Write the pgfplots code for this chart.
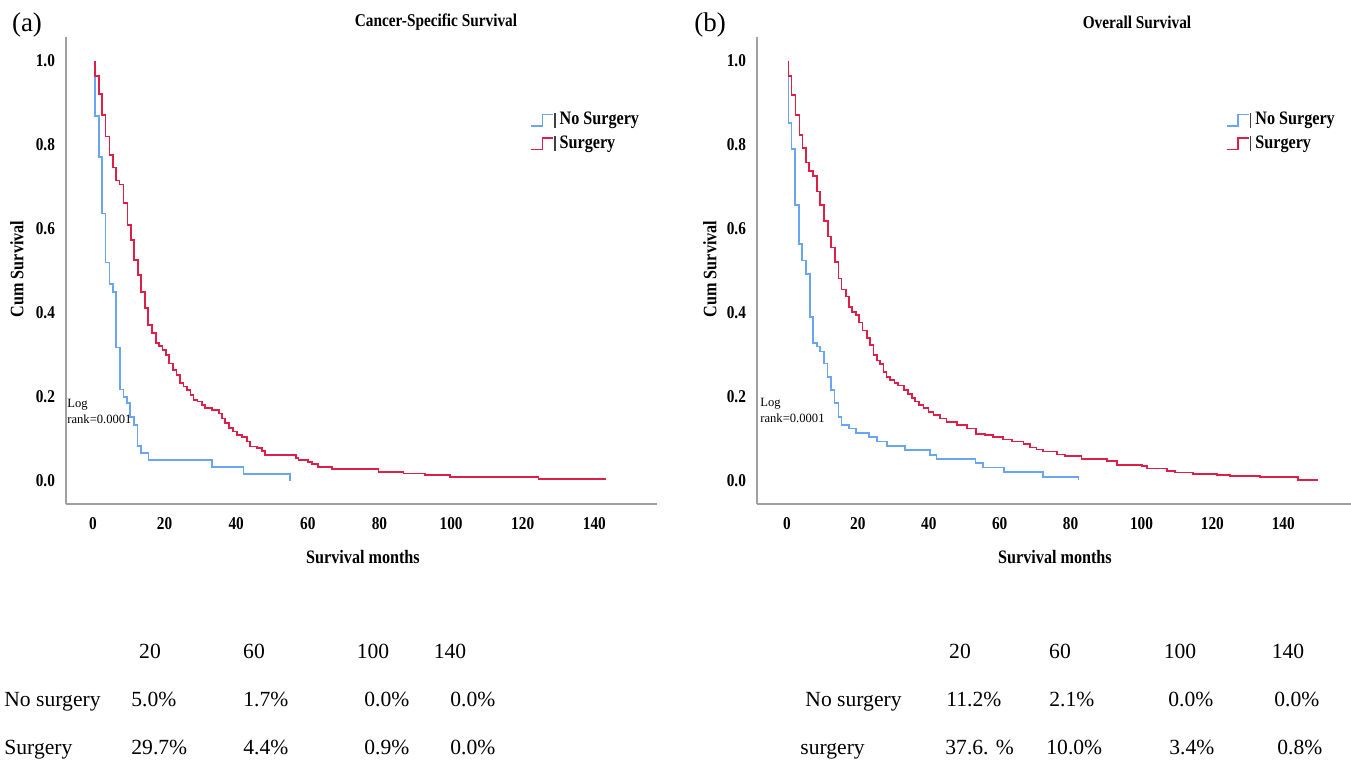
\documentclass[border=0pt]{standalone}
\usepackage{fontspec}
\setmainfont{Liberation Serif}
\newfontfamily\cond[FakeStretch=0.85]{Liberation Serif}
\usepackage{pgfplots}
\pgfplotsset{compat=1.18}
\definecolor{kmblue}{RGB}{105,165,240}
\definecolor{kmred}{RGB}{222,32,72}
\definecolor{axgray}{RGB}{160,160,160}
\pgfplotsset{kmstyle/.style={
  scale only axis, height=233.5pt,
  axis x line=bottom, axis y line=left,
  axis line style={-, axgray, line width=1pt},
  ymin=-0.0548, ymax=1.057,
  xtick={0,20,...,140}, ytick={0,0.2,0.4,0.6,0.8,1.0},
  major tick length=0pt,
  ticklabel style={font=\cond\bfseries\fontsize{9}{10}\selectfont},
  /pgf/number format/assume math mode=true,
  yticklabel style={/pgf/number format/.cd, fixed, fixed zerofill, precision=1},
  xticklabel shift=3pt, yticklabel shift=2pt,
  clip=false,
  legend image code/.code={\draw[#1, line width=0.8pt] (0cm,-0.1cm) -- (0.2cm,-0.1cm) -- (0.2cm,0.1cm) -- (0.38cm,0.1cm); \draw[black!75, line width=0.6pt] (0.42cm,-0.13cm) -- (0.42cm,0.13cm);},
  legend style={draw=none, fill=none, font=\cond\bfseries\fontsize{9.5}{11}\selectfont, row sep=0pt, inner sep=0pt, cells={anchor=west}, anchor=north west},
}}
\begin{document}
\begin{tikzpicture}
\useasboundingbox (0,0) rectangle (675.5pt,380.5pt);
% ---------- panel (a)
\begin{axis}[kmstyle, at={(33pt,128.5pt)}, anchor=south west, width=295.5pt,
  xmin=-7.54, xmax=157.5, legend style={at={(0.785,0.848)}}]
\addplot[const plot, kmblue, line width=0.85pt] coordinates {
(0.5,1.0) (0.5,0.869) (1.7,0.771) (2.6,0.637) (3.5,0.520) (4.6,0.469) (5.5,0.450)
(6.4,0.318) (7.5,0.218) (8.5,0.200) (9.4,0.185) (10.3,0.152) (11.5,0.133) (12.4,0.084)
(13.4,0.066) (15.5,0.050) (33.2,0.034) (42.0,0.017) (55.0,0.017) (55.0,0.0)};
\addlegendentry{No Surgery}
\addplot[const plot, kmred, line width=0.85pt] coordinates {
(0.5,1.0) (0.5,0.964) (1.7,0.921) (2.6,0.871) (3.5,0.820) (4.6,0.776) (5.5,0.746)
(6.4,0.715) (7.4,0.706) (8.5,0.661) (9.6,0.610) (10.6,0.574) (11.5,0.526) (12.5,0.490)
(13.4,0.450) (14.5,0.411) (15.4,0.371) (16.4,0.352) (17.5,0.329) (18.4,0.321) (19.4,0.312)
(20.4,0.300) (21.3,0.280) (22.3,0.264) (23.3,0.252) (24.2,0.233) (25.3,0.225) (26.2,0.217)
(27.2,0.205) (28.1,0.193) (29.2,0.189) (30.4,0.181) (31.2,0.173) (33.2,0.169) (35.1,0.161)
(36.0,0.149) (36.9,0.138) (37.9,0.126) (39.1,0.118) (40.2,0.110) (41.6,0.104) (43.0,0.094)
(43.9,0.082) (45.8,0.078) (47.2,0.072) (48.1,0.062) (56.7,0.054) (57.4,0.050) (60.1,0.046)
(61.1,0.040) (62.9,0.033) (66.7,0.028) (79.7,0.022) (86.7,0.018) (92.7,0.014) (99.7,0.009)
(124.4,0.005) (143.0,0.005) (143.0,0.002)};
\addlegendentry{Surgery}
\end{axis}
% ---------- panel (b)
\begin{axis}[kmstyle, at={(378.5pt,128.5pt)}, anchor=south west, width=297pt,
  xmin=-8.46, xmax=159.1, legend style={at={(0.789,0.848)}}]
\addplot[const plot, kmblue, line width=0.85pt] coordinates {
(0.4,1.0) (0.4,0.852) (1.3,0.790) (2.3,0.657) (3.4,0.564) (4.3,0.525) (5.4,0.493)
(6.5,0.391) (7.4,0.329) (8.4,0.320) (9.3,0.308) (10.4,0.280) (11.4,0.247) (12.4,0.217)
(13.4,0.185) (14.5,0.153) (15.4,0.133) (17.5,0.125) (19.5,0.114) (23.2,0.104) (25.3,0.094)
(28.3,0.083) (33.3,0.074) (40.3,0.062) (42.2,0.052) (53.2,0.042) (55.3,0.032) (61.2,0.021)
(72.3,0.010) (82.2,0.010) (82.2,0.002)};
\addlegendentry{No Surgery}
\addplot[const plot, kmred, line width=0.85pt] coordinates {
(0.4,1.0) (0.4,0.964) (1.3,0.919) (2.4,0.871) (3.5,0.824) (4.4,0.792) (5.4,0.758)
(6.3,0.738) (7.4,0.726) (8.4,0.689) (9.3,0.657) (10.4,0.619) (11.5,0.582) (12.4,0.556)
(13.5,0.522) (14.5,0.482) (15.4,0.456) (16.6,0.439) (17.5,0.415) (18.4,0.403) (19.5,0.395)
(20.4,0.377) (21.3,0.358) (22.5,0.340) (23.4,0.324) (24.4,0.300) (25.3,0.287) (26.2,0.279)
(27.2,0.260) (28.1,0.247) (29.1,0.240) (30.3,0.233) (31.4,0.227) (33.0,0.217) (34.2,0.207)
(35.2,0.197) (36.1,0.189) (37.3,0.181) (38.5,0.173) (39.9,0.165) (41.3,0.157) (43.2,0.149)
(45.0,0.141) (47.9,0.133) (50.7,0.125) (53.3,0.112) (55.9,0.110) (58.2,0.104) (61.0,0.099)
(63.4,0.094) (66.7,0.088) (68.5,0.080) (70.4,0.075) (72.3,0.070) (76.1,0.063) (78.4,0.060)
(83.1,0.052) (90.2,0.048) (93.0,0.038) (100.1,0.036) (101.5,0.030) (107.1,0.024) (109.5,0.020)
(114.6,0.017) (121.2,0.014) (125.0,0.012) (133.4,0.009) (144.2,0.002) (149.9,0.002)};
\addlegendentry{Surgery}
\end{axis}
% ---------- texts
\node[font=\fontsize{13.5}{15}\selectfont] at (13.5pt,368pt) {(a)};
\node[font=\fontsize{13.5}{15}\selectfont] at (355pt,368pt) {(b)};
\node[font=\cond\bfseries\fontsize{9}{10}\selectfont] at (218pt,369.5pt) {Cancer-Specific Survival};
\node[font=\cond\bfseries\fontsize{9}{10}\selectfont] at (568.5pt,369.5pt) {Overall Survival};
\node[font=\cond\bfseries\fontsize{9.5}{11}\selectfont] at (181.5pt,102pt) {Survival months};
\node[font=\cond\bfseries\fontsize{9.5}{11}\selectfont] at (527.5pt,102pt) {Survival months};
\node[font=\cond\bfseries\fontsize{9.5}{11}\selectfont, rotate=90] at (8.5pt,246pt) {Cum Survival};
\node[font=\cond\bfseries\fontsize{9.5}{11}\selectfont, rotate=90] at (355pt,246pt) {Cum Survival};
\node[anchor=west, align=left, inner sep=0pt, font=\fontsize{6.3}{8}\selectfont] at (33.5pt,175pt) {Log\\rank=0.0001};
\node[anchor=west, align=left, inner sep=0pt, font=\fontsize{6.3}{8}\selectfont] at (380pt,175.5pt) {Log\\rank=0.0001};
% ---------- table (a)
\begin{scope}[every node/.style={inner sep=0pt, font=\fontsize{10.8}{12}\selectfont}]
\node[anchor=base] at (75pt,51pt) {20};
\node[anchor=base] at (127pt,51pt) {60};
\node[anchor=base] at (186.5pt,51pt) {100};
\node[anchor=base] at (225pt,51pt) {140};
\node[anchor=base west] at (2pt,27pt) {No surgery};
\node[anchor=base west] at (65.5pt,27pt) {5.0\%};
\node[anchor=base west] at (121.5pt,27pt) {1.7\%};
\node[anchor=base west] at (182pt,27pt) {0.0\%};
\node[anchor=base west] at (225pt,27pt) {0.0\%};
\node[anchor=base west] at (2pt,3pt) {Surgery};
\node[anchor=base west] at (65.5pt,3pt) {29.7\%};
\node[anchor=base west] at (121.5pt,3pt) {4.4\%};
\node[anchor=base west] at (182pt,3pt) {0.9\%};
\node[anchor=base west] at (225pt,3pt) {0.0\%};
% ---------- table (b)
\node[anchor=base] at (480pt,51pt) {20};
\node[anchor=base] at (530pt,51pt) {60};
\node[anchor=base] at (590pt,51pt) {100};
\node[anchor=base] at (644pt,51pt) {140};
\node[anchor=base west] at (402.5pt,27pt) {No surgery};
\node[anchor=base west] at (473pt,27pt) {11.2\%};
\node[anchor=base west] at (524.5pt,27pt) {2.1\%};
\node[anchor=base west] at (584pt,27pt) {0.0\%};
\node[anchor=base west] at (637pt,27pt) {0.0\%};
\node[anchor=base west] at (400pt,3pt) {surgery};
\node[anchor=base west] at (472.5pt,3pt) {37.6. \%};
\node[anchor=base west] at (523pt,3pt) {10.0\%};
\node[anchor=base west] at (584.5pt,3pt) {3.4\%};
\node[anchor=base west] at (638.5pt,3pt) {0.8\%};
\end{scope}
\end{tikzpicture}
\end{document}
